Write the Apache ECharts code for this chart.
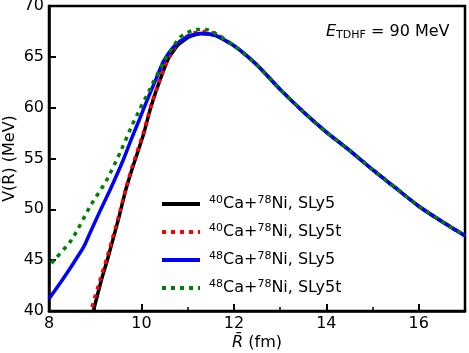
<!DOCTYPE html>
<html>
<head>
<meta charset="utf-8">
<script src="https://cdn.jsdelivr.net/npm/echarts@6/dist/echarts.min.js"></script>
<style>
  html, body { margin: 0; padding: 0; background: #fff; }
  #main { width: 469px; height: 353px; }
</style>
</head>
<body>
<div id="main"></div>
<script>
// tail of the barrier, shared by all four curves (they overlap there)
var tailX = [12.0, 12.5, 13.0, 13.5, 14.0, 14.5, 15.0, 15.5, 16.0, 16.5, 17.0];
var tailY = [66.1, 64.2, 61.8, 59.6, 57.6, 55.8, 53.9, 52.1, 50.3, 48.8, 47.4];

// 40Ca+78Ni, SLy5
var ca40X = [8.96, 9.13, 9.26, 9.5, 9.66, 9.8, 10.04, 10.2, 10.4, 10.58, 10.8, 11.05, 11.3, 11.6];
var ca40Y = [40.0, 43.0, 45.0, 49.0, 51.9, 54.0, 57.3, 60.0, 62.7, 64.8, 66.2, 67.0, 67.3, 67.1];
// 40Ca+78Ni, SLy5t
var ca40tX = [8.93, 9.1, 9.25, 9.5, 9.66, 9.8, 10.04, 10.2, 10.4, 10.6, 10.8, 11.1, 11.35, 11.6];
var ca40tY = [40.4, 43.0, 45.2, 49.2, 52.0, 54.2, 57.5, 60.1, 62.8, 65.0, 66.4, 67.3, 67.5, 67.3];
// 48Ca+78Ni, SLy5
var ca48X = [8.0, 8.25, 8.5, 8.75, 8.89, 9.1, 9.32, 9.61, 9.79, 9.97, 10.11, 10.36, 10.47, 10.7, 11.0, 11.3, 11.6];
var ca48Y = [41.2, 42.8, 44.5, 46.3, 47.7, 49.8, 51.9, 54.9, 57.0, 59.0, 60.6, 63.3, 64.5, 66.0, 67.0, 67.3, 67.1];
// 48Ca+78Ni, SLy5t
var ca48tX = [8.05, 8.49, 8.89, 9.25, 9.54, 9.79, 9.97, 10.17, 10.47, 10.83, 11.2, 11.4, 11.6];
var ca48tY = [44.7, 47.0, 50.3, 52.9, 55.6, 58.2, 59.9, 61.7, 64.4, 66.9, 67.7, 67.7, 67.3];

var names = ['ca40', 'ca40t', 'ca48', 'ca48t'];
var labels = {
  ca40: '{s|40}Ca+{s|78}Ni, SLy5',
  ca40t: '{s|40}Ca+{s|78}Ni, SLy5t',
  ca48: '{s|48}Ca+{s|78}Ni, SLy5',
  ca48t: '{s|48}Ca+{s|78}Ni, SLy5t'
};

function pairs(xs, ys) {
  var out = xs.map(function (x, i) { return [x, ys[i]]; });
  tailX.forEach(function (x, i) { out.push([x, tailY[i]]); });
  return out;
}

var font = 'DejaVu Sans';
var chart = echarts.init(document.getElementById('main'));

var option = {
  animation: false,
  grid: {
    left: 49, right: 4, top: 6, bottom: 42, outerBoundsMode: 'none',
    show: true, borderColor: '#000', borderWidth: 2.5, backgroundColor: 'transparent'
  },
  legend: {
    orient: 'vertical',
    left: 155, top: 190,
    itemWidth: 38, itemHeight: 14, itemGap: 11,
    data: names,
    formatter: function (n) { return labels[n]; },
    itemStyle: { opacity: 0 },
    lineStyle: { width: 4 },
    textStyle: {
      fontFamily: font, fontSize: 16, color: '#000', padding: [0, 0, 0, 4],
      rich: { s: { fontFamily: font, fontSize: 11, verticalAlign: 'top', padding: [0, 0, 7, 0] } }
    }
  },
  graphic: [{
    type: 'text', left: 326, top: 24,
    style: {
      text: '{e|E}{s|TDHF}{n| = 90 MeV}',
      rich: {
        e: { fontFamily: font, fontSize: 16, fontStyle: 'italic', fill: '#000' },
        s: { fontFamily: font, fontSize: 11, fill: '#000', verticalAlign: 'bottom', padding: [7, 0, 0, 0] },
        n: { fontFamily: font, fontSize: 16, fill: '#000' }
      }
    }
  }],
  xAxis: {
    type: 'value', min: 8, max: 17, interval: 2,
    name: '{i|R̄} (fm)', nameLocation: 'middle', nameGap: 24, nameMoveOverlap: false,
    nameTextStyle: {
      fontFamily: font, fontSize: 16, color: '#000',
      rich: { i: { fontFamily: font, fontSize: 16, fontStyle: 'italic' } }
    },
    axisLine: { show: true, lineStyle: { color: '#000', width: 2.5 } },
    axisTick: { show: true, inside: true, length: 7, lineStyle: { color: '#000', width: 2 } },
    minorTick: { show: true, splitNumber: 2, length: 4, lineStyle: { color: '#000', width: 1.5 } },
    axisLabel: { showMaxLabel: false, fontFamily: font, fontSize: 16, color: '#000', margin: 5 },
    splitLine: { show: false }
  },
  yAxis: {
    type: 'value', min: 40, max: 70, interval: 5,
    name: 'V(R̄) (MeV)', nameLocation: 'middle', nameGap: 31, nameRotate: 90, nameMoveOverlap: false,
    nameTextStyle: { fontFamily: font, fontSize: 16, color: '#000' },
    axisLine: { show: true, lineStyle: { color: '#000', width: 2.5 } },
    axisTick: { show: true, inside: true, length: 7, lineStyle: { color: '#000', width: 2 } },
    axisLabel: { fontFamily: font, fontSize: 16, color: '#000', margin: 5 },
    splitLine: { show: false }
  },
  series: [
    { name: 'ca40', type: 'line', symbol: 'none', smooth: 0.2, data: pairs(ca40X, ca40Y),
      lineStyle: { color: '#000', width: 3.5 }, itemStyle: { color: '#000' } },
    { name: 'ca40t', type: 'line', symbol: 'none', smooth: 0.2, data: pairs(ca40tX, ca40tY),
      lineStyle: { color: '#ff0000', width: 3.5, type: [4, 5] }, itemStyle: { color: '#ff0000' } },
    { name: 'ca48', type: 'line', symbol: 'none', smooth: 0.2, data: pairs(ca48X, ca48Y),
      lineStyle: { color: '#0000ff', width: 3.5 }, itemStyle: { color: '#0000ff' } },
    { name: 'ca48t', type: 'line', symbol: 'none', smooth: 0.2, data: pairs(ca48tX, ca48tY),
      lineStyle: { color: '#008000', width: 3.5, type: [4, 5] }, itemStyle: { color: '#008000' } }
  ]
};
chart.setOption(option);
</script>
</body>
</html>
